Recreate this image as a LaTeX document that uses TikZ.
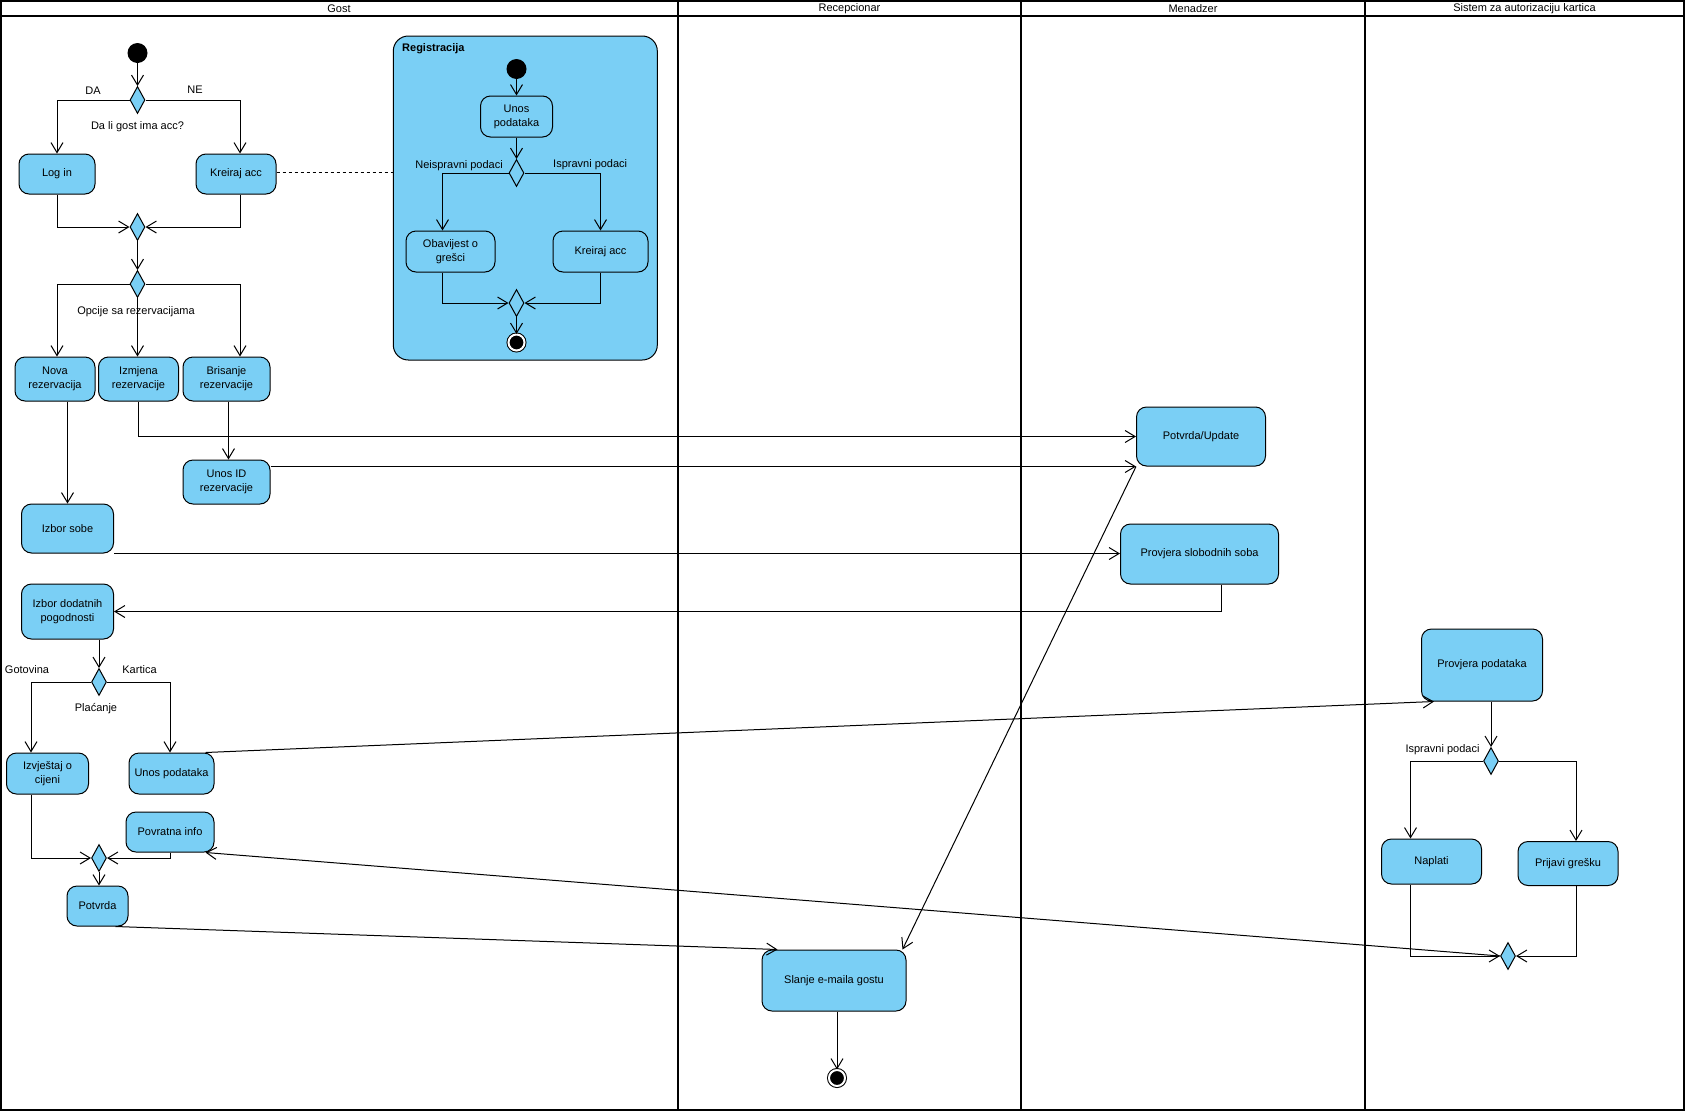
\documentclass[tikz,border=0pt]{standalone}
\usepackage{fontspec}
\setmainfont{Liberation Sans}
\usepackage{tikz}
\usetikzlibrary{shapes.geometric}
\usetikzlibrary{arrows.meta}
\usetikzlibrary{calc}
\definecolor{vpblue}{RGB}{122,207,245}

\begin{document}
\begin{tikzpicture}[x=1pt,y=-1pt,
	font=\fontsize{11}{14}\selectfont,
	act/.style={draw,fill=vpblue,rounded corners=10pt,align=center,inner sep=2pt,line width=1pt},
	dec/.style={draw,fill=vpblue,diamond,inner sep=0pt,minimum width=15pt,minimum height=27pt,line width=1pt},
	startnode/.style={circle,fill=black,inner sep=0pt,minimum size=20pt},
	endnode/.style={circle,fill=black,draw=black,double=white,double distance=2pt,line width=1pt,inner sep=0pt,minimum size=16pt},
	flow/.style={-{Straight Barb[length=10pt,width=12pt]},line width=1pt},
	lane/.style={line width=1.8pt},
	lbl/.style={inner sep=1pt}]
\useasboundingbox (0,0) rectangle (1686,1114);
% trake
\draw[lane] (1,1) rectangle (1684,1110);
\draw[lane] (1,16) -- (1684,16);
\draw[lane] (678,1) -- (678,1110);
\draw[lane] (1021,1) -- (1021,1110);
\draw[lane] (1365,1) -- (1365,1110);
\node (hgost) at (339,8.5) {Gost};
\node (hrec) at (849.5,8.5) {Recepcionar};
\node (hmen) at (1193,8.5) {Menadzer};
\node (hsis) at (1524.5,8.5) {Sistem za autorizaciju kartica};

% Registracija
\node[draw,fill=vpblue,rounded corners=15pt,minimum width=264pt,minimum height=324pt,line width=1pt] (registracija) at (525.3,198) {};
\node[lbl,anchor=west,font=\fontsize{11}{14}\selectfont\bfseries] (regtitle) at (401,49) {Registracija};
\node[startnode] (start2) at (516.5,69) {};
\node[act,minimum width=72pt,minimum height=41pt] (unosreg) at (516.5,116.5) {Unos\\podataka};
\node[dec] (d3) at (516.5,173) {};
\node[act,minimum width=89pt,minimum height=41pt] (obavijest) at (450.5,251.5) {Obavijest o\\grešci};
\node[act,minimum width=95pt,minimum height=41pt] (kreiraj2) at (600.5,251.5) {Kreiraj acc};
\node[dec] (m5) at (516.5,303) {};
\node[endnode] (end1) at (516.5,342.5) {};
\node[lbl,anchor=east] (lneisp) at (504,166) {Neispravni podaci};
\node[lbl,anchor=west] (lisp) at (552,165) {Ispravni podaci};

% Gost
\node[startnode] (start1) at (137.5,53) {};
\node[dec] (d1) at (137.5,100) {};
\node[lbl] (lda) at (93,91) {DA};
\node[lbl] (lne) at (195,90) {NE};
\node[lbl] (lacc) at (137.5,127) {Da li gost ima acc?};
\node[act,minimum width=76pt,minimum height=40pt] (login) at (57,174) {Log in};
\node[act,minimum width=80pt,minimum height=40pt] (kreiraj) at (236,174) {Kreiraj acc};
\node[dec] (m1) at (137.5,227) {};
\node[dec] (d2) at (137.5,284) {};
\node[lbl] (lopc) at (136,312) {Opcije sa rezervacijama};
\node[act,minimum width=80pt,minimum height=44pt] (nova) at (55,379) {Nova\\rezervacija};
\node[act,minimum width=80pt,minimum height=44pt] (izmjena) at (138.5,379) {Izmjena\\rezervacije};
\node[act,minimum width=87pt,minimum height=44pt] (brisanje) at (226.5,379) {Brisanje\\rezervacije};
\node[act,minimum width=87pt,minimum height=44pt] (unosid) at (226.5,482) {Unos ID\\rezervacije};
\node[act,minimum width=92pt,minimum height=49pt] (izborsobe) at (67.5,528.5) {Izbor sobe};
\node[act,minimum width=92pt,minimum height=55pt] (izbordod) at (67.5,611.5) {Izbor dodatnih\\pogodnosti};
\node[dec] (placanje) at (99,682) {};
\node[lbl] (lgot) at (27,670) {Gotovina};
\node[lbl] (lkar) at (139.5,670) {Kartica};
\node[lbl] (lpla) at (96,709) {Plaćanje};
\node[act,minimum width=82pt,minimum height=41pt] (izvjestaj) at (47.5,773.5) {Izvještaj o\\cijeni};
\node[act,minimum width=85pt,minimum height=41pt] (unospod) at (171.5,773.5) {Unos podataka};
\node[act,minimum width=88pt,minimum height=40pt] (povratna) at (170,832) {Povratna info};
\node[dec] (m3) at (99,858) {};
\node[act,minimum width=61pt,minimum height=40pt] (potvrda) at (97.5,906) {Potvrda};

% Recepcionar
\node[act,minimum width=144pt,minimum height=61pt] (slanje) at (834,980.5) {Slanje e-maila gostu};
\node[endnode] (end2) at (837,1078) {};

% Menadzer
\node[act,minimum width=129pt,minimum height=59pt] (potvrdaupd) at (1201,436.5) {Potvrda/Update};
\node[act,minimum width=158pt,minimum height=60pt] (provjerasob) at (1199.5,554) {Provjera slobodnih soba};

% Sistem za autorizaciju kartica
\node[act,minimum width=121pt,minimum height=72pt] (provjerapod) at (1482,665) {Provjera podataka};
\node[dec] (d4) at (1491,761) {};
\node[lbl] (lisp2) at (1442.5,750) {Ispravni podaci};
\node[act,minimum width=100pt,minimum height=45pt] (naplati) at (1431.5,861.5) {Naplati};
\node[act,minimum width=100pt,minimum height=44pt] (prijavi) at (1568,863.5) {Prijavi grešku};
\node[dec] (m4) at (1508,956) {};

% tokovi - Registracija
\draw[flow] (start2) -- (unosreg.north);
\draw[flow] (unosreg.south) -- (d3.north);
\draw[flow] (d3.west) -| ([xshift=-8pt]obavijest.north);
\draw[flow] (d3.east) -| (kreiraj2.north);
\draw[flow] ([xshift=-8pt]obavijest.south) |- (m5.west);
\draw[flow] (kreiraj2.south) |- (m5.east);
\draw[flow] (m5.south) -- (end1.north);

% tokovi - Gost
\draw[flow] (start1) -- (d1.north);
\draw[flow] (d1.west) -| (login.north);
\draw[flow] (d1.east) -| ([xshift=4pt]kreiraj.north);
\draw[flow] (login.south) |- (m1.west);
\draw[flow] ([xshift=4pt]kreiraj.south) |- (m1.east);
\draw[dashed,line width=1pt] ([yshift=2pt]kreiraj.east) -- ([yshift=2pt]kreiraj.east -| registracija.west);
\draw[flow] (m1.south) -- (d2.north);
\draw[flow] (d2.west) -| ([xshift=2pt]nova.north);
\draw[flow] (d2.south) -- (d2.south |- izmjena.north);
\draw[flow] (d2.east) -| ([xshift=13.5pt]brisanje.north);
\draw[flow] (nova.south -| izborsobe.north) -- (izborsobe.north);
\draw[flow] (izmjena.south) |- (potvrdaupd.west);
\draw[flow] ([xshift=2pt]brisanje.south) -- ([xshift=2pt]unosid.north);
\draw[flow] (unosid.east |- potvrdaupd.south west) -- (potvrdaupd.south west);
\draw[flow] (izborsobe.south east) -- (izborsobe.south east -| provjerasob.west);
\draw[flow] ([xshift=22pt]provjerasob.south) |- (izbordod.east);
\draw[flow] (izbordod.south -| placanje.north) -- (placanje.north);
\draw[flow] (placanje.west) -| ([xshift=-16.5pt]izvjestaj.north);
\draw[flow] (placanje.east) -| ([xshift=-1.5pt]unospod.north);
\draw[flow] ([xshift=-16.5pt]izvjestaj.south) |- (m3.west);
\draw[flow] (povratna.south) |- (m3.east);
\draw[flow] (m3.south) -- (m3.south |- potvrda.north);
\draw[flow] ([xshift=-13pt]potvrda.south east) -- ([xshift=16pt]slanje.north west);
\draw[flow] ([xshift=-9pt]unospod.north east) -- ([xshift=13pt]provjerapod.south west);

% tokovi - Menadzer, Recepcionar
\draw[flow] (potvrdaupd.south west) -- ([xshift=-4pt]slanje.north east);
\draw[flow] (slanje.south -| end2.north) -- (end2.north);

% tokovi - Sistem
\draw[flow] (provjerapod.south -| d4.north) -- (d4.north);
\draw[flow] (d4.west) -| ([xshift=-21pt]naplati.north);
\draw[flow] (d4.east) -| ([xshift=8pt]prijavi.north);
\draw[flow] ([xshift=-21pt]naplati.south) |- (m4.west);
\draw[flow] ([xshift=8pt]prijavi.south) |- (m4.east);
\draw[flow] (m4.west) -- ([xshift=-9pt]povratna.south east);
\end{tikzpicture}
\end{document}
